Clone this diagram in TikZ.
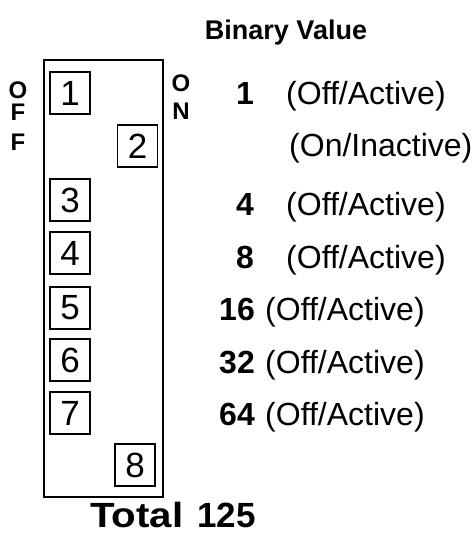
\documentclass[tikz,border=0pt]{standalone}
\usepackage{graphicx}
\usepackage{fontspec}
\setmainfont{Liberation Sans}
\begin{document}
\begin{tikzpicture}[x=1pt,y=1pt,
  sw/.style={draw,line width=1.2pt,minimum width=40pt,minimum height=42pt,inner sep=0pt,font=\fontsize{35}{35}\selectfont},
  lbl/.style={inner sep=0pt,anchor=base,font=\bfseries\fontsize{24}{24}\selectfont},
  num/.style={inner sep=0pt,anchor=base east,font=\bfseries\fontsize{32}{32}\selectfont},
  txt/.style={inner sep=0pt,anchor=base west,font=\fontsize{32}{32}\selectfont},
  tot/.style={inner sep=0pt,font=\bfseries\fontsize{35}{35}\selectfont}]
\useasboundingbox (0,0) rectangle (473,-534);
\node[draw,line width=1.5pt,minimum width=119pt,minimum height=437pt,inner sep=0pt] (body) at (103.5,-278.5) {};
\node[sw] (s1) at (70,-93) {1};
\node[sw] (s2) at (137.5,-146) {2};
\node[sw] (s3) at (70,-200) {3};
\node[sw] (s4) at (70,-253) {4};
\node[sw] (s5) at (70,-308) {5};
\node[sw] (s6) at (70,-360) {6};
\node[sw] (s7) at (70,-413) {7};
\node[sw] (s8) at (135,-465) {8};
\node[lbl] (o1) at (18,-99) {O};
\node[lbl] (f1) at (18,-121) {F};
\node[lbl] (f2) at (18,-151) {F};
\node[lbl] (o2) at (181,-92) {O};
\node[lbl] (n2) at (181,-120) {N};
\node[inner sep=0pt,anchor=base,font=\bfseries\fontsize{27}{27}\selectfont] (title) at (286,-40) {Binary Value};
\node[num] (v1) at (254,-105) {1};
\node[txt] (t1) at (286,-105) {(Off/Active)};
\node[txt] (t2) at (289,-157) {(On/Inactive)};
\node[num] (v4) at (254,-215) {4};
\node[txt] (t4) at (286,-215) {(Off/Active)};
\node[num] (v8) at (254,-268) {8};
\node[txt] (t8) at (286,-268) {(Off/Active)};
\node[num] (v16) at (255,-320) {16};
\node[txt] (t16) at (265,-320) {(Off/Active)};
\node[num] (v32) at (255,-373) {32};
\node[txt] (t32) at (265,-373) {(Off/Active)};
\node[num] (v64) at (255,-425) {64};
\node[txt] (t64) at (265,-425) {(Off/Active)};
\node[tot,anchor=base west] (total) at (90,-527) {\scalebox{1.15}[1]{Total}};
\node[tot,anchor=base east] (sum) at (256,-527) {125};
\end{tikzpicture}
\end{document}
